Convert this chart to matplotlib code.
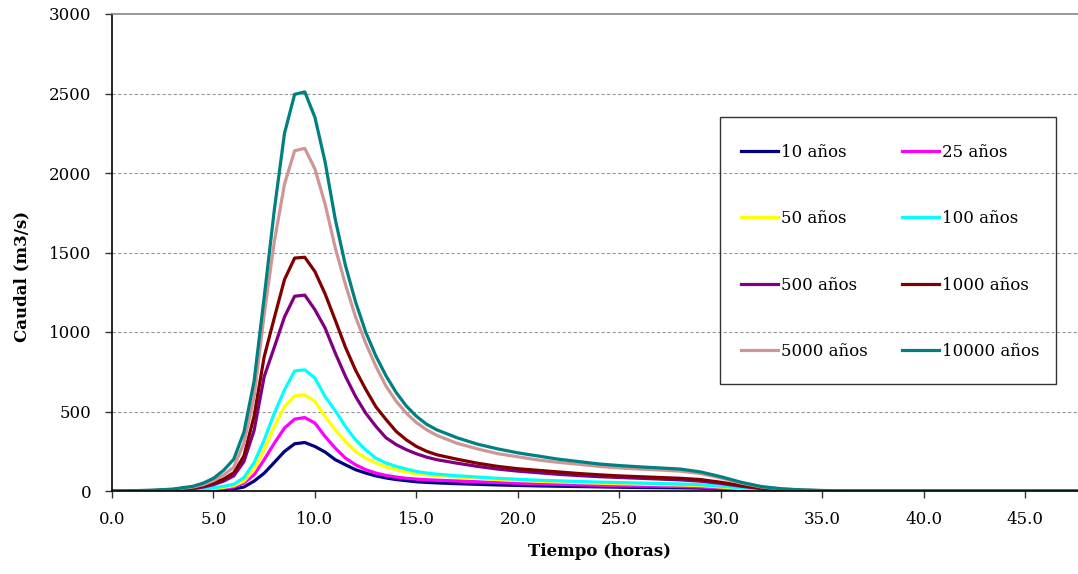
import matplotlib
matplotlib.use("Agg")
import matplotlib.pyplot as plt
from matplotlib.patches import Rectangle

# tiempo (horas)
tiempo = [0, 1, 2, 3, 4, 4.5, 5, 5.5, 6, 6.5, 7, 7.5, 8, 8.5, 9, 9.5, 10, 10.5,
          11, 11.5, 12, 12.5, 13, 13.5, 14, 14.5, 15, 15.5, 16, 17, 18, 19, 20,
          21, 22, 23, 24, 25, 26, 27, 28, 29, 30, 31, 32, 33, 34, 35, 36, 40, 47.6]

# caudal (m3/s) por periodo de retorno
q10 = [0, 0, 0, 1, 3, 4, 6, 9, 13, 25, 62, 112, 180, 249, 297, 305, 280, 245,
       197, 165, 134, 113, 95, 82, 72, 65, 58, 54, 51, 46, 42, 38, 35,
       32, 30, 28, 26, 24, 22, 21, 20, 18, 12, 8, 4, 2, 1, 0, 0, 0, 0]
q25 = [0, 0, 0, 2, 4, 7, 11, 17, 25, 50, 102, 197, 301, 396, 452, 462, 427, 343,
       270, 207, 165, 134, 113, 98, 88, 80, 75, 71, 68, 63, 58, 53, 49,
       45, 42, 39, 36, 34, 32, 30, 28, 25, 18, 12, 6, 3, 1, 0, 0, 0, 0]
q50 = [0, 0, 1, 2, 6, 10, 15, 23, 33, 62, 134, 259, 406, 531, 598, 605, 563, 469,
       385, 312, 249, 207, 176, 151, 134, 119, 109, 102, 96, 88, 80, 72, 66,
       61, 57, 53, 49, 46, 43, 40, 38, 34, 25, 16, 8, 4, 2, 1, 0, 0, 0]
q100 = [0, 0, 1, 3, 8, 13, 20, 30, 42, 85, 178, 322, 490, 636, 755, 762, 710, 594,
        505, 406, 322, 259, 207, 176, 155, 138, 123, 113, 106, 96, 88, 80, 74,
        68, 64, 60, 56, 53, 50, 47, 44, 40, 30, 20, 10, 5, 2, 1, 0, 0, 0]
q500 = [0, 1, 2, 6, 15, 25, 40, 62, 95, 185, 380, 720, 905, 1095, 1225, 1232, 1140, 1025,
        868, 722, 595, 490, 407, 335, 292, 260, 234, 213, 197, 175, 155, 138, 125,
        115, 105, 97, 90, 85, 80, 75, 70, 62, 48, 30, 15, 7, 3, 1, 0, 0, 0]
q1000 = [0, 1, 3, 8, 20, 32, 50, 75, 115, 220, 470, 845, 1090, 1330, 1465, 1470, 1380, 1240,
         1075, 905, 760, 640, 530, 450, 375, 322, 280, 250, 228, 200, 175, 155, 140,
         130, 120, 110, 102, 95, 90, 85, 80, 72, 55, 35, 18, 8, 4, 2, 1, 0, 0]
q5000 = [0, 1, 4, 10, 25, 40, 65, 100, 150, 300, 590, 1110, 1570, 1930, 2140, 2155, 2025, 1805,
         1530, 1300, 1095, 930, 785, 660, 565, 490, 430, 385, 350, 300, 265, 235, 215,
         195, 180, 168, 155, 145, 138, 132, 125, 110, 82, 50, 25, 12, 6, 3, 1, 0, 0]
q10000 = [0, 2, 5, 12, 30, 50, 80, 130, 200, 370, 690, 1220, 1770, 2250, 2495, 2510, 2350, 2070,
          1710, 1420, 1190, 1000, 850, 725, 620, 535, 470, 420, 385, 335, 295, 265, 240,
          220, 200, 185, 170, 160, 152, 145, 138, 120, 90, 55, 28, 14, 7, 3, 1, 0, 0]

series = [q10, q25, q50, q100, q500, q1000, q5000, q10000]
etiquetas = ["10 años", "25 años", "50 años", "100 años",
             "500 años", "1000 años", "5000 años", "10000 años"]
colores = ["#000080", "#FF00FF", "#FFFF00", "#00FFFF",
           "#800080", "#800000", "#CF9696", "#008080"]

xticks = [0, 5, 10, 15, 20, 25, 30, 35, 40, 45]
yticks = [0, 500, 1000, 1500, 2000, 2500, 3000]

plt.rcParams["font.family"] = ["DejaVu Serif"]

fig = plt.figure(figsize=(10.78, 5.74), dpi=100)
ax = fig.add_axes([112 / 1078, 83 / 574, 966 / 1078, 477 / 574])

lines = []
for q, lab, c in zip(series, etiquetas, colores):
    ln, = ax.plot(tiempo, q, color=c, lw=2.3, label=lab, solid_joinstyle="round")
    lines.append(ln)

ax.set_xlim(0, 47.6)
ax.set_ylim(0, 3000)
ax.set_xticks(xticks)
ax.set_xticklabels([f"{v:.1f}" for v in xticks])
ax.set_yticks(yticks)
ax.tick_params(axis="both", labelsize=12, length=5, width=1, color="#333333")
ax.tick_params(axis="x", pad=9.5)
ax.tick_params(axis="y", pad=10)

# gridlines
for y in yticks[1:-1]:
    ax.axhline(y, color="#999999", lw=0.8, ls=(0, (3, 2)), zorder=0)

ax.spines["right"].set_visible(False)
ax.spines["top"].set_color("#888888")
ax.spines["top"].set_linewidth(1.2)
ax.spines["left"].set_linewidth(1.2)
ax.spines["bottom"].set_linewidth(1.2)

ax.set_xlabel("Tiempo (horas)", fontsize=12, fontweight="bold")
ax.set_ylabel("Caudal (m3/s)", fontsize=12, fontweight="bold")
ax.xaxis.set_label_coords(0.505, -0.11)
ax.yaxis.set_label_coords(-0.085, 0.449)

# legend box (row-major order like the original)
fig.patches.append(Rectangle((720 / 1078, 190 / 574), 336 / 1078, 267 / 574,
                             transform=fig.transFigure, fill=False,
                             edgecolor="#333333", lw=1.0))
orden = [0, 2, 4, 6, 1, 3, 5, 7]
leg = fig.legend(handles=[lines[i] for i in orden], labels=[etiquetas[i] for i in orden],
                 ncol=2, frameon=False,
                 loc="center left", bbox_to_anchor=(733 / 1078, (574 - 252) / 574),
                 fontsize=12, borderpad=0, handlelength=2.2, handletextpad=0.2,
                 labelspacing=2.97, columnspacing=2.05)

fig.savefig("out.png", dpi=100)
